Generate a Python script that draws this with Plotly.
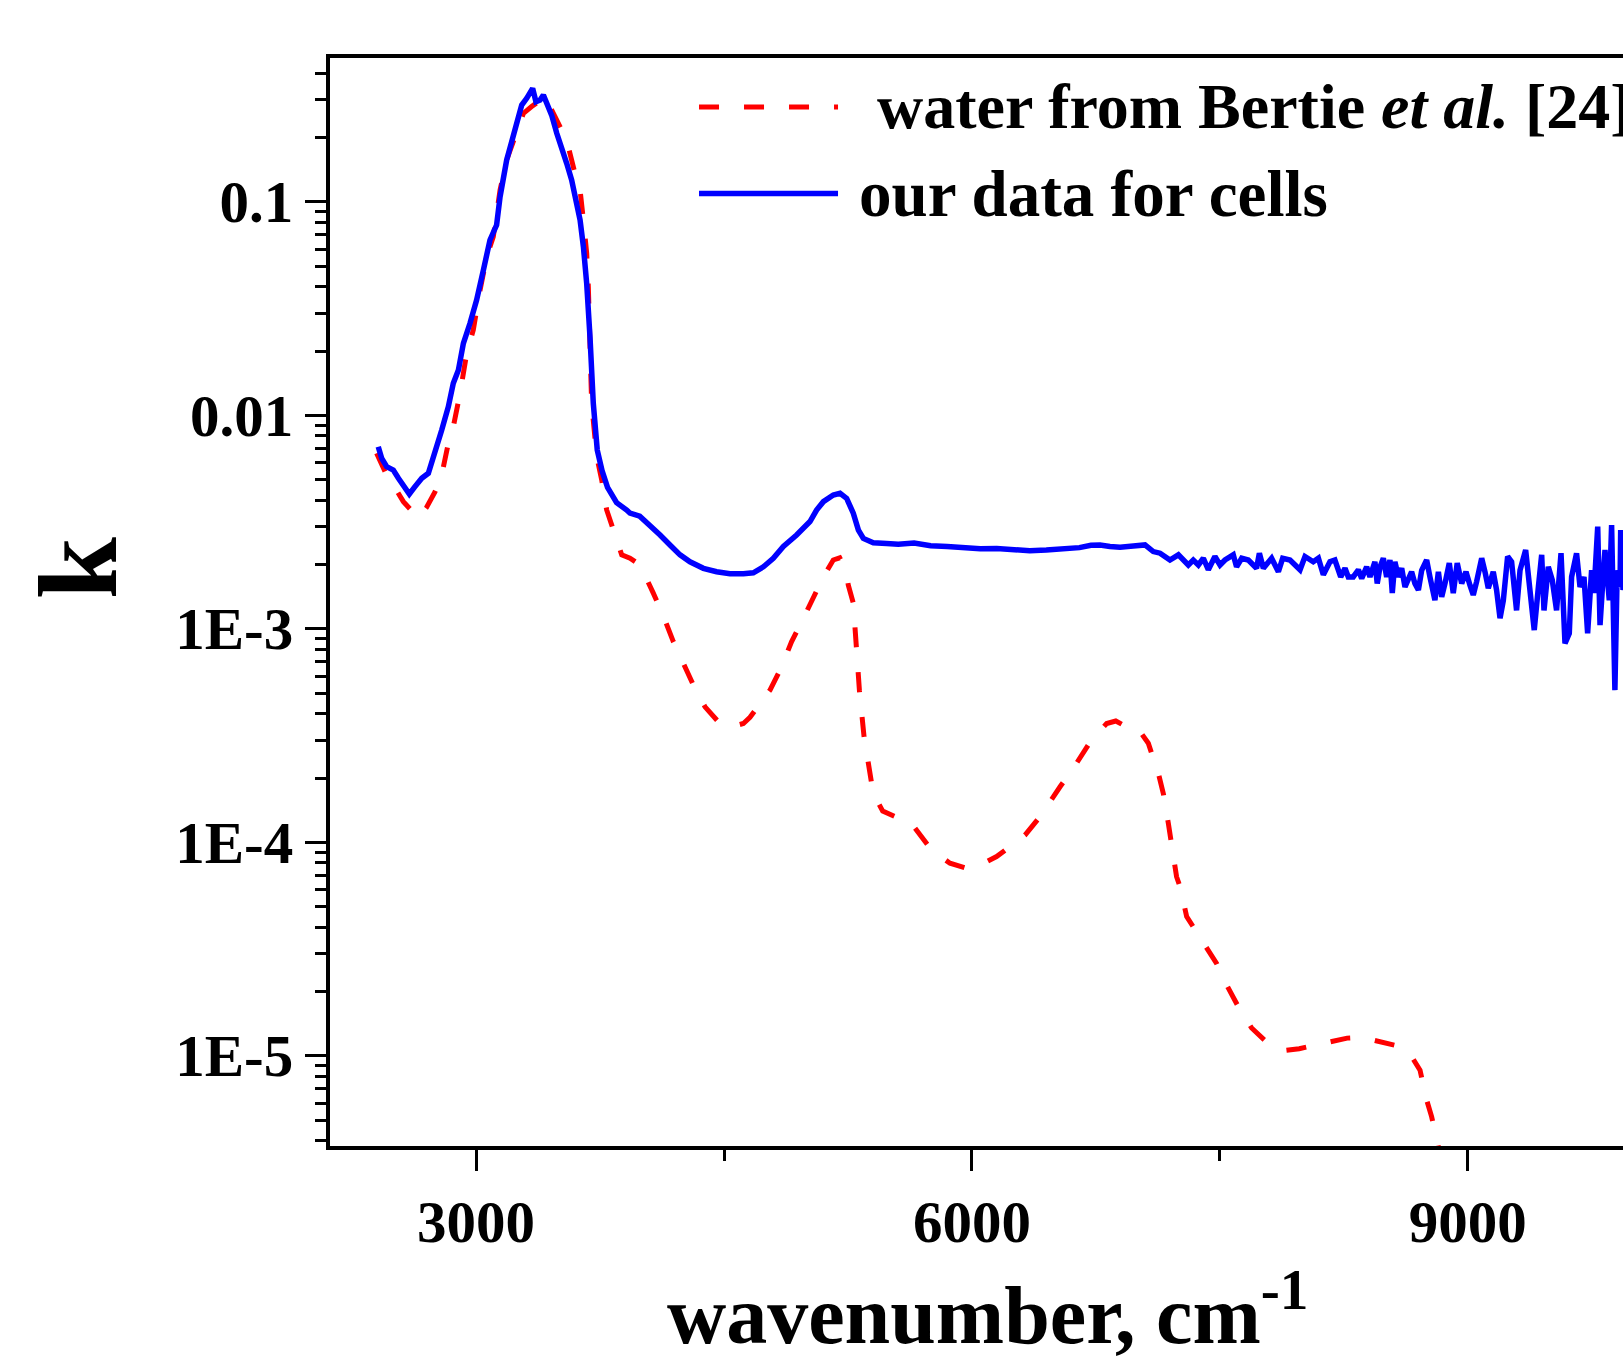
import plotly.graph_objects as go

# ---------------- data ----------------
wn_cells = [2408, 2429, 2459, 2499, 2530, 2560, 2596, 2630, 2671, 2711, 2751, 2792, 2832, 2862, 2893,
            2923, 2963, 3003, 3044, 3084, 3124, 3145, 3185, 3215, 3245, 3276, 3306, 3326, 3342, 3362,
            3387, 3407, 3427, 3457, 3488, 3518, 3548, 3578, 3608, 3629, 3649, 3669, 3689, 3709, 3733,
            3748, 3762, 3795, 3850, 3911, 3931, 3990, 4052, 4113, 4173, 4234, 4294, 4375, 4455, 4536,
            4617, 4677, 4738, 4798, 4859, 4939, 5020, 5060, 5101, 5161, 5202, 5242, 5282, 5313, 5343,
            5403, 5484, 5554, 5650, 5750, 5850, 5950, 6050, 6150, 6250, 6350, 6450, 6550, 6650, 6720,
            6775, 6835, 6896, 6976, 7047, 7097, 7138, 7198, 7249, 7309, 7339, 7370, 7400, 7430, 7470,
            7501, 7531, 7581, 7601, 7632, 7672, 7722, 7739, 7763, 7813, 7854, 7880, 7924, 7985, 8015,
            8065, 8096, 8126, 8166, 8196, 8231, 8257, 8277, 8307, 8338, 8358, 8388, 8408, 8438, 8452,
            8469, 8489, 8509, 8529, 8543, 8559, 8580, 8600, 8620, 8640, 8660, 8680, 8701, 8721, 8751,
            8771, 8801, 8822, 8842, 8862, 8888, 8912, 8936, 8963, 8989, 9013, 9033, 9053, 9084, 9104,
            9124, 9154, 9174, 9195, 9215, 9241, 9265, 9295, 9316, 9350, 9376, 9402, 9427, 9447, 9461,
            9487, 9511, 9537, 9564, 9588, 9614, 9628, 9658, 9679, 9703, 9725, 9749, 9763, 9786, 9800,
            9816, 9830, 9856, 9870, 9890, 9904, 9921, 9925, 9939, 9960]
k_cells = [0.00713, 0.00628, 0.00574, 0.00554, 0.00507, 0.00471, 0.00428, 0.00463, 0.00507, 0.00535,
           0.00664, 0.00853, 0.01097, 0.01413, 0.01629, 0.02173, 0.02698, 0.03467, 0.04786, 0.06622,
           0.0778, 0.1057, 0.157, 0.1945, 0.2415, 0.2838, 0.3053, 0.3222, 0.3398, 0.2944,
           0.2998, 0.3162, 0.2891, 0.2547, 0.2094, 0.1813, 0.1514, 0.1265, 0.0984, 0.0822,
           0.0617, 0.0415, 0.0233, 0.01138, 0.00687, 0.00605, 0.0055, 0.0046, 0.0039, 0.0036,
           0.00348, 0.00337, 0.00306, 0.00275, 0.00247, 0.00222, 0.00206, 0.00192, 0.00185, 0.00181,
           0.00181, 0.00183, 0.00195, 0.00214, 0.00243, 0.00275, 0.00318, 0.0036, 0.00394, 0.00423,
           0.00431, 0.00408, 0.00348, 0.0029, 0.00265, 0.00253, 0.00251, 0.00249, 0.00252, 0.00245,
           0.00243, 0.00239, 0.00237, 0.00238, 0.00234, 0.00232, 0.00234, 0.00236, 0.0024, 0.00246,
           0.00247, 0.00243, 0.00241, 0.00244, 0.00247, 0.0023, 0.00226, 0.0021, 0.00222, 0.00199,
           0.0021, 0.00199, 0.00214, 0.00189, 0.00218, 0.00199, 0.0021, 0.00222, 0.00195, 0.00214,
           0.0021, 0.00192, 0.00226, 0.00192, 0.00214, 0.00185, 0.00214, 0.0021, 0.00189, 0.00218,
           0.00206, 0.00214, 0.00179, 0.00206, 0.0021, 0.00175, 0.00192, 0.00175, 0.00175, 0.00189,
           0.00172, 0.00195, 0.00175, 0.00206, 0.00163,
           0.00195, 0.00214, 0.00175, 0.0021, 0.00147, 0.00206, 0.00175, 0.00192, 0.00157, 0.00169,
           0.00185, 0.00163, 0.00152, 0.00188, 0.0021, 0.00175, 0.00136, 0.00185, 0.00141, 0.00163,
           0.00203, 0.00147, 0.00203, 0.00163, 0.00185, 0.0016, 0.00144, 0.00166, 0.00214, 0.00185,
           0.00155, 0.00185, 0.00152, 0.00112, 0.00136, 0.00218, 0.00206, 0.00122, 0.00188, 0.00234,
           0.00157, 0.000986, 0.00157, 0.00222, 0.00122, 0.00195, 0.00169, 0.00122, 0.00226, 0.000855,
           0.000953, 0.00175, 0.00226, 0.00157, 0.00175, 0.000953, 0.00188, 0.00147, 0.00301, 0.00104,
           0.00163, 0.00234, 0.00136, 0.00306, 0.000516, 0.00188, 0.00157, 0.0029, 0.00152, 0.0020]

wn_water = [2398, 2449, 2560, 2650, 2700, 2751, 2792, 2832, 2862, 2903, 2943, 2983, 3024, 3064, 3104,
            3145, 3185, 3225, 3286, 3336, 3397, 3417, 3457, 3508, 3548, 3598, 3629, 3649, 3669, 3679,
            3689, 3699, 3730, 3760, 3790, 3820, 3881, 3931, 3992, 4072, 4123, 4193, 4244, 4324, 4385,
            4475, 4546, 4617, 4657, 4778, 4839, 4909, 4970, 5050, 5101, 5161, 5200, 5235, 5252, 5282,
            5298, 5319, 5347, 5383, 5403, 5460, 5534, 5625, 5756, 5867, 5968, 6049, 6149, 6321, 6412,
            6533, 6613, 6724, 6815, 6870, 6916, 6996, 7067, 7128, 7158, 7188, 7208, 7238, 7259, 7299,
            7370, 7480, 7531, 7622, 7692, 7793, 7894, 7980, 8075, 8176, 8270, 8358, 8469, 8560, 8640,
            8711, 8751, 8781, 8822, 8850]
k_water = [0.00664, 0.00545, 0.00394, 0.0033, 0.0037, 0.00438, 0.00525, 0.0074, 0.00885, 0.01268,
           0.0195, 0.02512, 0.03864, 0.05534, 0.06871, 0.1135, 0.157, 0.1945, 0.2594, 0.2793,
           0.3055, 0.3105, 0.2692, 0.2208, 0.1945, 0.1358, 0.1135, 0.0822, 0.0574, 0.04,
           0.0195, 0.01138, 0.0064, 0.00498, 0.0036, 0.00306, 0.00222, 0.00214, 0.00199, 0.00147,
           0.0012, 0.000871, 0.000714, 0.000526, 0.000431, 0.00036, 0.000348, 0.00036, 0.000385, 0.000516,
           0.000641, 0.000871, 0.00108, 0.00147, 0.00175, 0.0021, 0.00215, 0.0019, 0.0016, 0.00132,
           0.000855, 0.000516, 0.000313, 0.000203, 0.000169, 0.00014, 0.000132, 0.000125, 0.000092, 0.0000798,
           0.0000755, 0.0000783, 0.0000857, 0.000108, 0.000132, 0.000182, 0.000222, 0.000302, 0.00036, 0.00037,
           0.000354, 0.000348, 0.000291, 0.00021, 0.000169, 0.000123, 0.0000989, 0.000069, 0.0000619, 0.0000449,
           0.0000368, 0.0000271, 0.0000222, 0.0000164, 0.0000135, 0.0000114, 0.0000106, 0.0000108, 0.0000112, 0.0000117,
           0.0000121, 0.0000122, 0.0000117, 0.0000112, 0.0000105, 0.00000857, 0.00000621, 0.00000519, 0.00000375, 0.000003]

x_tick_vals = [3000, 6000, 9000]
x_tick_text = ["3000", "6000", "9000"]
x_minor_vals = [1500, 4500, 7500, 10500]
y_tick_vals = [1e-5, 1e-4, 1e-3, 1e-2, 1e-1]
y_tick_text = ["1E-5", "1E-4", "1E-3", "0.01", "0.1"]
y_minor_vals = [m * 10.0 ** d for d in range(-6, 1) for m in range(2, 10)]

legend_water = "water from Bertie <i>et al.</i> [24]"
legend_cells = "our data for cells"

FONT = "Liberation Serif"
RED_DASH = "20px,25px"

fig = go.Figure()
fig.add_trace(go.Scatter(x=wn_water, y=k_water, mode="lines", name="water from Bertie et al. [24]",
                         line=dict(color="#ff0000", width=5, dash=RED_DASH), showlegend=False))
fig.add_trace(go.Scatter(x=wn_cells, y=k_cells, mode="lines", name="our data for cells",
                         line=dict(color="#0000ff", width=5.5), showlegend=False))

axis_common = dict(showline=True, linewidth=4, linecolor="black", ticks="outside", ticklen=21,
                   tickwidth=3, tickcolor="black", showgrid=False, zeroline=False,
                   tickfont=dict(family=FONT, size=59, color="black", weight="bold"))

fig.update_xaxes(range=[2116, 9939], tickmode="array", tickvals=x_tick_vals, ticktext=x_tick_text,
                 mirror=True,
                 minor=dict(tickmode="array", tickvals=x_minor_vals, ticks="outside", ticklen=11,
                            tickwidth=3, tickcolor="black", showgrid=False),
                 **axis_common)
fig.update_yaxes(type="log", range=[-5.4225, -0.3265], tickmode="array", tickvals=y_tick_vals,
                 ticktext=y_tick_text, mirror=False,
                 minor=dict(tickmode="array", tickvals=y_minor_vals, ticks="outside", ticklen=11,
                            tickwidth=3, tickcolor="black", showgrid=False),
                 **axis_common)

# manual legend
fig.add_shape(type="line", xref="paper", yref="paper", x0=0.2854, x1=0.3929, y0=0.955, y1=0.955,
              line=dict(color="#ff0000", width=5, dash=RED_DASH))
fig.add_shape(type="line", xref="paper", yref="paper", x0=0.2854, x1=0.3929, y0=0.8754, y1=0.8754,
              line=dict(color="#0000ff", width=5.5))
fig.add_annotation(xref="paper", yref="paper", x=0.4215, y=0.955, text=legend_water, showarrow=False,
                   xanchor="left", yanchor="middle",
                   font=dict(family=FONT, size=64, color="black", weight="bold"))
fig.add_annotation(xref="paper", yref="paper", x=0.4076, y=0.8754, text=legend_cells, showarrow=False,
                   xanchor="left", yanchor="middle",
                   font=dict(family=FONT, size=65, color="black", weight="bold"))

# axis titles
fig.add_annotation(xref="paper", yref="paper", x=-0.1949, y=0.532, text="k", showarrow=False,
                   textangle=-90, xanchor="center", yanchor="middle",
                   font=dict(family=FONT, size=112, color="black", weight="bold"))
fig.add_annotation(xref="paper", yref="paper", x=0.509, y=-0.150, text="wavenumber, cm<sup>-1</sup>",
                   showarrow=False, xanchor="center", yanchor="middle",
                   font=dict(family=FONT, size=82, color="black", weight="bold"))

fig.update_layout(width=1623, height=1360, margin=dict(l=330, r=0, t=58, b=214, pad=0),
                  paper_bgcolor="white", plot_bgcolor="white", showlegend=False)

fig.write_html("out.html")
